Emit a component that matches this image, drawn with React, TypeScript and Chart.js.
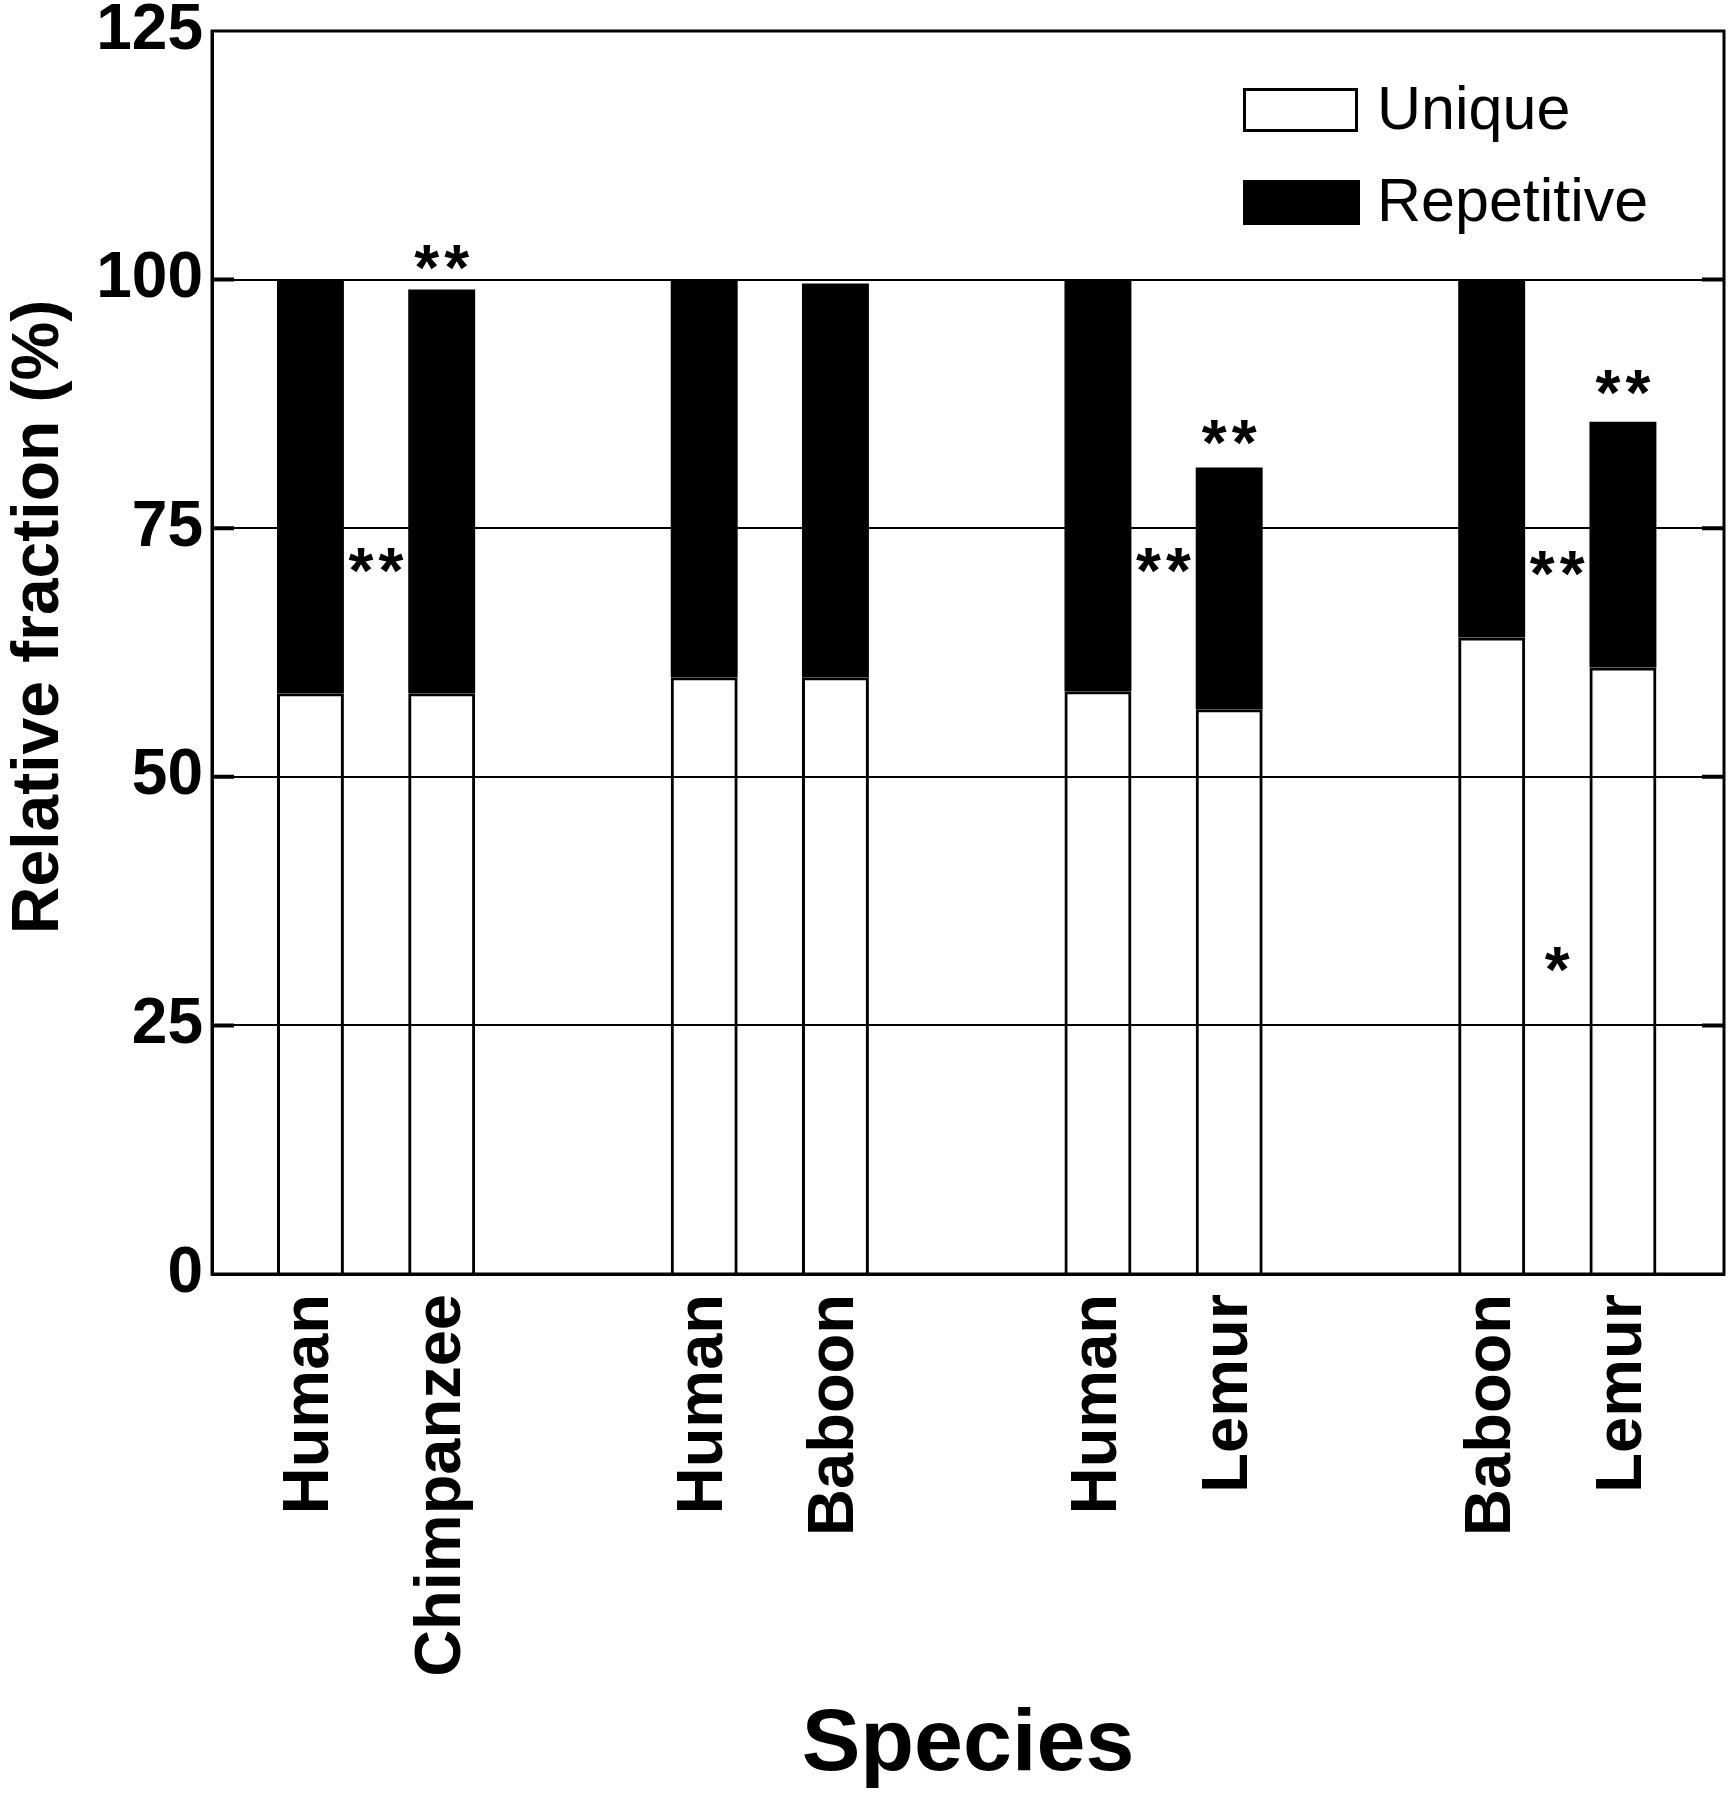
import React, { useEffect, useRef } from 'react';
import { Chart, registerables } from 'chart.js';

Chart.register(...registerables);

const FONT = '"Liberation Sans", Arial, Helvetica, sans-serif';

// Bar positions on the x axis (gaps at 3, 6, 9 separate the comparison pairs)
const positions = [1, 2, 4, 5, 7, 8, 10, 11];
const species = ['Human', 'Chimpanzee', 'Human', 'Baboon', 'Human', 'Lemur', 'Baboon', 'Lemur'];
const uniqueFraction = [58.4, 58.4, 60.0, 60.0, 58.6, 56.8, 64.0, 61.0];
const repetitiveFraction = [41.6, 40.6, 40.0, 39.6, 41.4, 24.3, 36.0, 24.7];
const yTicks = [0, 25, 50, 75, 100, 125];

// Significance markers (x in bar-position units, y in %)
const markerX = [2, 1.5, 8, 7.5, 11, 10.5, 10.5];
const markerY = [102.2, 71.8, 84.6, 71.8, 89.7, 71.5, 31.6];
const markerText = ['**', '**', '**', '**', '**', '**', '*'];

const seriesLabels = ['Unique', 'Repetitive'];

const decorations = {
  id: 'decorations',
  afterDraw(chart: any) {
    const { ctx, chartArea } = chart;
    const { left, right, top, bottom } = chartArea;
    const xs = chart.scales.x;
    const ys = chart.scales.y;
    ctx.save();

    // frame around the plot area
    ctx.strokeStyle = '#000';
    ctx.lineWidth = 3;
    ctx.strokeRect(left, top, right - left, bottom - top);

    // inward tick stubs on both sides
    ctx.lineWidth = 4;
    yTicks.slice(1, -1).forEach((v) => {
      const y = ys.getPixelForValue(v);
      ctx.beginPath();
      ctx.moveTo(left, y);
      ctx.lineTo(left + 22, y);
      ctx.moveTo(right - 22, y);
      ctx.lineTo(right, y);
      ctx.stroke();
    });

    // significance asterisks
    ctx.fillStyle = '#000';
    ctx.font = `bold 64px ${FONT}`;
    ctx.textAlign = 'center';
    ctx.textBaseline = 'alphabetic';
    const m = ctx.measureText('*');
    const shift = (m.actualBoundingBoxAscent - m.actualBoundingBoxDescent) / 2;
    markerText.forEach((t, i) => {
      const cx = xs.getPixelForValue(markerX[i]);
      const cy = ys.getPixelForValue(markerY[i]);
      const n = t.length;
      for (let k = 0; k < n; k++) {
        ctx.fillText('*', cx + (k - (n - 1) / 2) * 30, cy + shift);
      }
    });

    // legend
    const boxLeft = right - 481;
    const boxW = 115;
    const rows = [
      { top: top + 57, h: 44 },
      { top: top + 149, h: 45 },
    ];
    ctx.font = `61px ${FONT}`;
    ctx.textAlign = 'left';
    ctx.textBaseline = 'middle';
    chart.data.datasets.forEach((ds: any, i: number) => {
      const r = rows[i];
      if (i === 0) {
        ctx.fillStyle = '#fff';
        ctx.fillRect(boxLeft, r.top, boxW, r.h);
        ctx.lineWidth = 3;
        ctx.strokeStyle = '#000';
        ctx.strokeRect(boxLeft + 1.5, r.top + 1.5, boxW - 3, r.h - 3);
      } else {
        ctx.fillStyle = ds.backgroundColor;
        ctx.fillRect(boxLeft, r.top, boxW + 2, r.h);
      }
      ctx.fillStyle = '#000';
      ctx.fillText(ds.label, boxLeft + 134, r.top + r.h / 2 + 2);
    });

    // y axis title
    ctx.translate(40, top + 586);
    ctx.rotate(-Math.PI / 2);
    ctx.font = `bold 66px ${FONT}`;
    ctx.textAlign = 'center';
    ctx.textBaseline = 'middle';
    ctx.fillText('Relative fraction (%)', 0, 0);

    ctx.restore();
  },
};

export default function App() {
  const canvasRef = useRef<HTMLCanvasElement | null>(null);

  useEffect(() => {
    const canvas = canvasRef.current;
    if (!canvas) return;
    const chart = new Chart(canvas, {
      type: 'bar',
      data: {
        datasets: [
          {
            label: seriesLabels[0],
            data: positions.map((x, i) => ({ x, y: uniqueFraction[i] })),
            backgroundColor: 'rgba(255,255,255,0)',
            borderColor: '#000',
            borderWidth: 3,
            barPercentage: 0.51,
            categoryPercentage: 1,
          },
          {
            label: seriesLabels[1],
            data: positions.map((x, i) => ({ x, y: repetitiveFraction[i] })),
            backgroundColor: '#000',
            borderColor: '#000',
            borderWidth: 0,
            barPercentage: 0.51,
            categoryPercentage: 1,
          },
        ],
      },
      options: {
        responsive: false,
        animation: false,
        devicePixelRatio: 1,
        layout: { padding: { top: 31, right: 8, left: 0, bottom: 0 } },
        plugins: {
          legend: { display: false },
          tooltip: { enabled: false },
          title: { display: false },
        },
        scales: {
          x: {
            type: 'linear',
            stacked: true,
            offset: false,
            min: 0.25,
            max: 11.77,
            grid: { display: false, drawTicks: false },
            border: { display: true, color: '#000', width: 3 },
            ticks: {
              autoSkip: false,
              minRotation: 90,
              maxRotation: 90,
              padding: 20,
              color: '#000',
              font: { family: FONT, size: 65, weight: 'bold', lineHeight: 1 },
              callback: (value: any) => {
                const idx = positions.indexOf(Number(value));
                return idx >= 0 ? species[idx] : '';
              },
            },
            afterBuildTicks: (scale: any) => {
              scale.ticks = positions.map((v) => ({ value: v }));
            },
            afterFit: (scale: any) => {
              scale.height = 526;
              scale.paddingLeft = 0;
              scale.paddingRight = 0;
            },
            title: {
              display: true,
              text: 'Species',
              color: '#000',
              font: { family: FONT, size: 88, weight: 'bold', lineHeight: 1 },
              padding: { top: 0, bottom: 10 },
            },
          },
          y: {
            stacked: true,
            min: 0,
            max: 125,
            grid: { color: '#000', lineWidth: 2, drawTicks: false },
            border: { display: true, color: '#000', width: 3 },
            ticks: {
              stepSize: 25,
              padding: 9,
              color: '#000',
              font: { family: FONT, size: 64, weight: 'bold', lineHeight: 1 },
            },
            afterBuildTicks: (scale: any) => {
              scale.ticks = yTicks.map((v) => ({ value: v }));
            },
            afterFit: (scale: any) => {
              scale.width = 212;
              scale.paddingTop = 0;
              scale.paddingBottom = 0;
            },
          },
        },
      },
      plugins: [decorations],
    } as any);
    return () => chart.destroy();
  }, []);

  return (
    <div style={{ position: 'absolute', left: 0, top: 0, width: 1732, height: 1800, background: '#fff' }}>
      <canvas ref={canvasRef} width={1732} height={1800} style={{ display: 'block' }} />
    </div>
  );
}
